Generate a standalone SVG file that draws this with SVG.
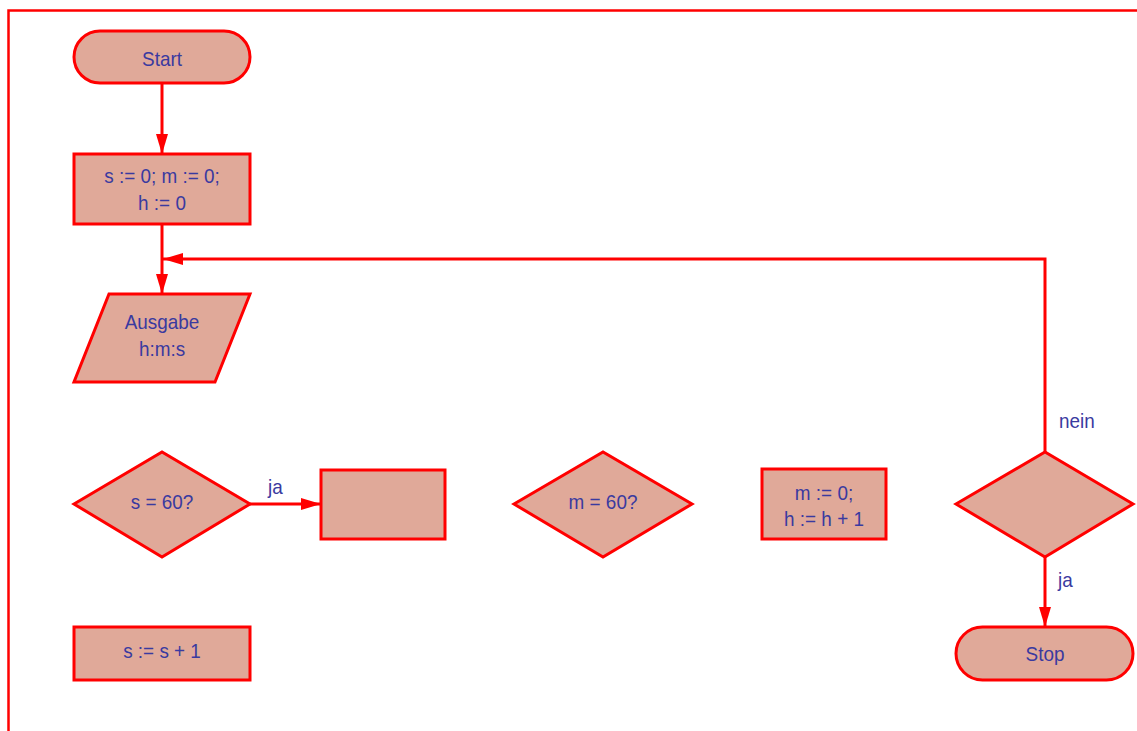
<svg xmlns="http://www.w3.org/2000/svg" width="1137" height="731" viewBox="0 0 1137 731">
  <style>
    .shape { fill: #e0a999; stroke: #ff0000; stroke-width: 3; }
    .conn { fill: none; stroke: #ff0000; stroke-width: 3; }
    .frame { fill: none; stroke: #ff0000; stroke-width: 2.5; }
    text { font-family: "Liberation Sans", Arial, sans-serif; font-size: 21px; fill: #3a3aa0; text-anchor: middle; }
    .lbl { text-anchor: start; }
  </style>
  <defs>
    <marker id="arrow" viewBox="0 0 20 12" refX="20" refY="6" markerWidth="20" markerHeight="12" markerUnits="userSpaceOnUse" orient="auto">
      <path d="M0,0 L20,6 L0,12 Z" fill="#ff0000"/>
    </marker>
  </defs>

  <rect width="1137" height="731" fill="#ffffff"/>
  <!-- page frame -->
  <path class="frame" d="M8.5,731 V10.5 H1137"/>

  <!-- connectors -->
  <g id="connectors">
    <path class="conn" d="M162,83 V154" marker-end="url(#arrow)"/>
    <path class="conn" d="M162,224 V294" marker-end="url(#arrow)"/>
    <path class="conn" d="M250,504 H321" marker-end="url(#arrow)"/>
    <path class="conn" d="M1045,452 V259 H163" marker-end="url(#arrow)"/>
    <path class="conn" d="M1045,557 V627" marker-end="url(#arrow)"/>
    <g transform="translate(268,494) scale(0.9,1)"><text class="lbl" x="0" y="0">ja</text></g>
    <g transform="translate(1058,587) scale(0.9,1)"><text class="lbl" x="0" y="0">ja</text></g>
    <g transform="translate(1059,428) scale(0.9,1)"><text class="lbl" x="0" y="0">nein</text></g>
  </g>

  <g id="start">
    <rect class="shape" x="74" y="31" width="176" height="52" rx="26"/>
    <g transform="translate(162,66) scale(0.9,1)"><text x="0" y="0">Start</text></g>
  </g>

  <g id="init">
    <rect class="shape" x="74" y="154" width="176" height="70"/>
    <g transform="translate(162,183) scale(0.9,1)"><text x="0" y="0">s := 0; m := 0;</text></g>
    <g transform="translate(162,210) scale(0.9,1)"><text x="0" y="0">h := 0</text></g>
  </g>

  <g id="output">
    <polygon class="shape" points="109,294 250,294 215,382 74,382"/>
    <g transform="translate(162,329) scale(0.9,1)"><text x="0" y="0">Ausgabe</text></g>
    <g transform="translate(162,356) scale(0.9,1)"><text x="0" y="0">h:m:s</text></g>
  </g>

  <g id="check-s">
    <polygon class="shape" points="74,504 162,452 250,504 162,557"/>
    <g transform="translate(162,509) scale(0.9,1)"><text x="0" y="0">s = 60?</text></g>
  </g>

  <g id="reset-s">
    <rect class="shape" x="321" y="470" width="124" height="69"/>
  </g>

  <g id="check-m">
    <polygon class="shape" points="514,504 603,452 692,504 603,557"/>
    <g transform="translate(603,509) scale(0.9,1)"><text x="0" y="0">m = 60?</text></g>
  </g>

  <g id="reset-m">
    <rect class="shape" x="762" y="469" width="124" height="70"/>
    <g transform="translate(824,500) scale(0.9,1)"><text x="0" y="0">m := 0;</text></g>
    <g transform="translate(824,526) scale(0.9,1)"><text x="0" y="0">h := h + 1</text></g>
  </g>

  <g id="check-end">
    <polygon class="shape" points="956,504 1045,452 1133,504 1045,557"/>
  </g>

  <g id="inc-s">
    <rect class="shape" x="74" y="627" width="176" height="53"/>
    <g transform="translate(162,658) scale(0.9,1)"><text x="0" y="0">s := s + 1</text></g>
  </g>

  <g id="stop">
    <rect class="shape" x="956" y="627" width="177" height="53" rx="26.5"/>
    <g transform="translate(1045,661) scale(0.9,1)"><text x="0" y="0">Stop</text></g>
  </g>
</svg>
